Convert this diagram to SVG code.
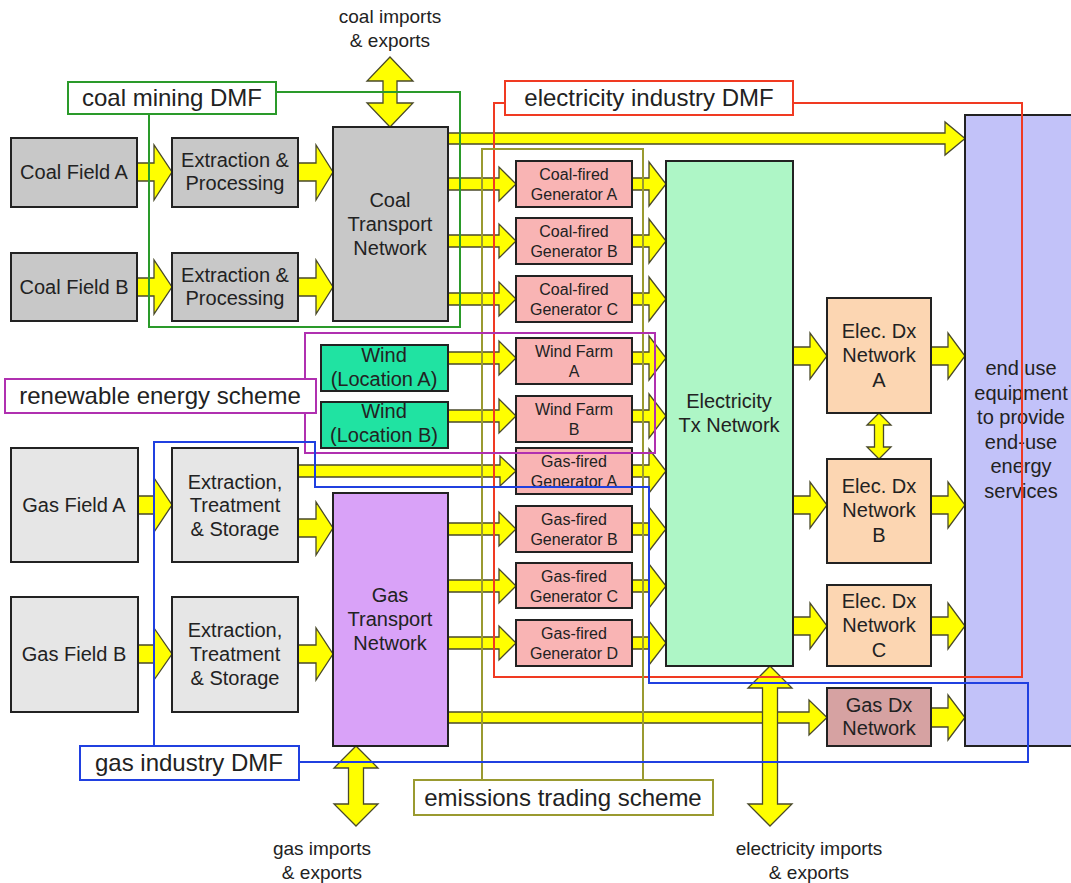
<svg xmlns="http://www.w3.org/2000/svg" width="1071" height="883" viewBox="0 0 1071 883">
<style>
text{font-family:"Liberation Sans",Arial,sans-serif;fill:#222;text-anchor:middle}
.t20{font-size:20px}
.t16{font-size:16px}
.t19{font-size:19px}
.t24{font-size:24px}
.box{stroke:#222;stroke-width:2}
.coal{fill:#c8c8c8}
.gasf{fill:#e6e6e6}
.wind{fill:#20e3a2}
.gen{fill:#f9b4b4}
.tx{fill:#aef6c6}
.dx{fill:#fcd6b2}
.gdx{fill:#d6a2a2}
.gtr{fill:#d9a2f8}
.end{fill:#c2c2f9}
.arr{fill:#ffff00;stroke:#4a4a2a;stroke-width:1.3;stroke-linejoin:miter}
.ln{fill:none;stroke-width:2}
.lab{fill:#fff;stroke-width:2}
</style>

<g id="connectors">
<!-- field to extraction / extraction to transport -->
<polygon class="arr" points="137,163 154,163 154,145 172,172 154,200 154,181 137,181"/>
<polygon class="arr" points="298,163 316,163 316,145 333,172 316,200 316,181 298,181"/>
<polygon class="arr" points="137,278 154,278 154,260 172,287 154,314 154,296 137,296"/>
<polygon class="arr" points="298,278 316,278 316,260 333,287 316,314 316,296 298,296"/>
<polygon class="arr" points="137,496 154,496 154,478 172,505 154,532 154,514 137,514"/>
<polygon class="arr" points="298,519 316,519 316,502 333,528 316,555 316,537 298,537"/>
<polygon class="arr" points="137,645 154,645 154,628 172,654 154,680 154,663 137,663"/>
<polygon class="arr" points="298,645 316,645 316,628 333,654 316,680 316,663 298,663"/>
<!-- top long arrow coal to end use -->
<polygon class="arr" points="448,133 945,133 945,122 965,138.5 945,155 945,144 448,144"/>
<!-- coal transport to coal generators -->
<polygon class="arr" points="448,178 499,178 499,167 516,184 499,201 499,190 448,190"/>
<polygon class="arr" points="448,235 499,235 499,224 516,241 499,258 499,247 448,247"/>
<polygon class="arr" points="448,293 499,293 499,282 516,299 499,316 499,305 448,305"/>
<!-- wind to wind farms -->
<polygon class="arr" points="448,352 499,352 499,341 516,358 499,375 499,364 448,364"/>
<polygon class="arr" points="448,410 499,410 499,399 516,416 499,433 499,422 448,422"/>
<!-- gas long arrow -->
<polygon class="arr" points="298,465 500,465 500,456 516,471 500,486 500,477 298,477"/>
<!-- gas transport to gas generators -->
<polygon class="arr" points="448,523 499,523 499,512 516,529 499,546 499,535 448,535"/>
<polygon class="arr" points="448,580 499,580 499,569 516,586 499,603 499,592 448,592"/>
<polygon class="arr" points="448,637 499,637 499,626 516,643 499,660 499,649 448,649"/>
<!-- generators to Tx -->
<polygon class="arr" points="632,178 649,178 649,162 666,184 649,206 649,190 632,190"/>
<polygon class="arr" points="632,235 649,235 649,219 666,241 649,263 649,247 632,247"/>
<polygon class="arr" points="632,293 649,293 649,277 666,299 649,321 649,305 632,305"/>
<polygon class="arr" points="632,352 649,352 649,336 666,358 649,380 649,364 632,364"/>
<polygon class="arr" points="632,410 649,410 649,394 666,416 649,438 649,422 632,422"/>
<polygon class="arr" points="632,465 649,465 649,449 666,471 649,493 649,477 632,477"/>
<polygon class="arr" points="632,523 649,523 649,507 666,529 649,551 649,535 632,535"/>
<polygon class="arr" points="632,580 649,580 649,564 666,586 649,608 649,592 632,592"/>
<polygon class="arr" points="632,637 649,637 649,621 666,643 649,665 649,649 632,649"/>
<!-- Tx to Dx -->
<polygon class="arr" points="793,347 810,347 810,333 827,356 810,379 810,365 793,365"/>
<polygon class="arr" points="793,496 810,496 810,482 827,505 810,528 810,514 793,514"/>
<polygon class="arr" points="793,617 810,617 810,603 827,626 810,649 810,635 793,635"/>
<!-- Dx to end use -->
<polygon class="arr" points="931,347 948,347 948,333 965,356 948,379 948,365 931,365"/>
<polygon class="arr" points="931,496 948,496 948,482 965,505 948,528 948,514 931,514"/>
<polygon class="arr" points="931,617 948,617 948,603 965,626 948,649 948,635 931,635"/>
<!-- gas transport to gas dx -->
<polygon class="arr" points="448,712 809,712 809,700 827,717.5 809,735 809,723 448,723"/>
<polygon class="arr" points="931,708 948,708 948,695 965,717.5 948,740 948,727 931,727"/>
<!-- double arrows -->
<polygon class="arr" points="390,57 413,81 397,81 397,103 413,103 390,127 367,103 383,103 383,81 367,81"/>
<polygon class="arr" points="356,746 378,768 363.5,768 363.5,804 378,804 356,826 334,804 348.5,804 348.5,768 334,768"/>
<polygon class="arr" points="770,666 792,688 777.5,688 777.5,804 792,804 770,826 748,804 762.5,804 762.5,688 748,688"/>
<polygon class="arr" points="879,413 891,425 883.5,425 883.5,447 891,447 879,459 867,447 874.5,447 874.5,425 867,425"/>
</g>

<g id="coal-field-a"><rect class="box coal" x="11" y="138" width="126" height="69"/><text class="t20" x="74" y="179">Coal Field A</text></g>
<g id="coal-extraction-a"><rect class="box coal" x="172" y="138" width="126" height="69"/><text class="t20" x="235" y="167">Extraction &amp;</text><text class="t20" x="235" y="190">Processing</text></g>
<g id="coal-field-b"><rect class="box coal" x="11" y="253" width="126" height="68"/><text class="t20" x="74" y="294">Coal Field B</text></g>
<g id="coal-extraction-b"><rect class="box coal" x="172" y="253" width="126" height="68"/><text class="t20" x="235" y="282">Extraction &amp;</text><text class="t20" x="235" y="305">Processing</text></g>
<g id="coal-transport"><rect class="box coal" x="333" y="127" width="115" height="194"/><text class="t20" x="390" y="207">Coal</text><text class="t20" x="390" y="231">Transport</text><text class="t20" x="390" y="255">Network</text></g>

<g id="wind-a"><rect class="box wind" x="321" y="345" width="127" height="46"/><text class="t20" x="384" y="362">Wind</text><text class="t20" x="384" y="386">(Location A)</text></g>
<g id="wind-b"><rect class="box wind" x="321" y="402" width="127" height="46"/><text class="t20" x="384" y="418">Wind</text><text class="t20" x="384" y="442">(Location B)</text></g>

<g id="gas-field-a"><rect class="box gasf" x="11" y="448" width="127" height="114"/><text class="t20" x="74" y="512">Gas Field A</text></g>
<g id="gas-extraction-a"><rect class="box gasf" x="172" y="448" width="126" height="114"/><text class="t20" x="235" y="489">Extraction,</text><text class="t20" x="235" y="512">Treatment</text><text class="t20" x="235" y="536">&amp; Storage</text></g>
<g id="gas-field-b"><rect class="box gasf" x="11" y="597" width="127" height="115"/><text class="t20" x="74" y="661">Gas Field B</text></g>
<g id="gas-extraction-b"><rect class="box gasf" x="172" y="597" width="126" height="115"/><text class="t20" x="235" y="637">Extraction,</text><text class="t20" x="235" y="661">Treatment</text><text class="t20" x="235" y="685">&amp; Storage</text></g>
<g id="gas-transport"><rect class="box gtr" x="333" y="493" width="115" height="253"/><text class="t20" x="390" y="602">Gas</text><text class="t20" x="390" y="626">Transport</text><text class="t20" x="390" y="650">Network</text></g>

<g id="coal-gen-a"><rect class="box gen" x="516" y="161" width="116" height="46"/><text class="t16" x="574" y="180">Coal-fired</text><text class="t16" x="574" y="200">Generator A</text></g>
<g id="coal-gen-b"><rect class="box gen" x="516" y="218" width="116" height="46"/><text class="t16" x="574" y="237">Coal-fired</text><text class="t16" x="574" y="257">Generator B</text></g>
<g id="coal-gen-c"><rect class="box gen" x="516" y="276" width="116" height="46"/><text class="t16" x="574" y="295">Coal-fired</text><text class="t16" x="574" y="315">Generator C</text></g>
<g id="wind-farm-a"><rect class="box gen" x="516" y="338" width="116" height="46"/><text class="t16" x="574" y="357">Wind Farm</text><text class="t16" x="574" y="377">A</text></g>
<g id="wind-farm-b"><rect class="box gen" x="516" y="396" width="116" height="46"/><text class="t16" x="574" y="415">Wind Farm</text><text class="t16" x="574" y="435">B</text></g>
<g id="gas-gen-a"><rect class="box gen" x="516" y="448" width="116" height="46"/><text class="t16" x="574" y="467">Gas-fired</text><text class="t16" x="574" y="487">Generator A</text></g>
<g id="gas-gen-b"><rect class="box gen" x="516" y="506" width="116" height="46"/><text class="t16" x="574" y="525">Gas-fired</text><text class="t16" x="574" y="545">Generator B</text></g>
<g id="gas-gen-c"><rect class="box gen" x="516" y="563" width="116" height="45"/><text class="t16" x="574" y="582">Gas-fired</text><text class="t16" x="574" y="602">Generator C</text></g>
<g id="gas-gen-d"><rect class="box gen" x="516" y="620" width="116" height="46"/><text class="t16" x="574" y="639">Gas-fired</text><text class="t16" x="574" y="659">Generator D</text></g>

<g id="tx-network"><rect class="box tx" x="666" y="161" width="127" height="505"/><text class="t20" x="729" y="408">Electricity</text><text class="t20" x="729" y="432">Tx Network</text></g>

<g id="dx-a"><rect class="box dx" x="827" y="298" width="104" height="115"/><text class="t20" x="879" y="338">Elec. Dx</text><text class="t20" x="879" y="362">Network</text><text class="t20" x="879" y="387">A</text></g>
<g id="dx-b"><rect class="box dx" x="827" y="459" width="104" height="104"/><text class="t20" x="879" y="493">Elec. Dx</text><text class="t20" x="879" y="517">Network</text><text class="t20" x="879" y="542">B</text></g>
<g id="dx-c"><rect class="box dx" x="827" y="585" width="104" height="81"/><text class="t20" x="879" y="608">Elec. Dx</text><text class="t20" x="879" y="632">Network</text><text class="t20" x="879" y="657">C</text></g>
<g id="gas-dx"><rect class="box gdx" x="827" y="688" width="104" height="58"/><text class="t20" x="879" y="712">Gas Dx</text><text class="t20" x="879" y="735">Network</text></g>

<g id="end-use"><rect class="box end" x="965" y="115" width="120" height="631"/><text class="t20" x="1021" y="375">end use</text><text class="t20" x="1021" y="400">equipment</text><text class="t20" x="1021" y="424">to provide</text><text class="t20" x="1021" y="449">end-use</text><text class="t20" x="1021" y="473">energy</text><text class="t20" x="1021" y="498">services</text></g>

<g id="import-labels">
<text class="t19" x="390" y="23">coal imports</text><text class="t19" x="390" y="47">&amp; exports</text>
<text class="t19" x="322" y="855">gas imports</text><text class="t19" x="322" y="879">&amp; exports</text>
<text class="t19" x="809" y="855">electricity imports</text><text class="t19" x="809" y="879">&amp; exports</text>
</g>

<g id="coal-mining-dmf">
<path class="ln" stroke="#2a9a2a" d="M276,92 H460 V327 H149 V114"/>
<rect class="lab" stroke="#2a9a2a" x="68" y="82" width="208" height="32"/>
<text class="t24" x="172" y="106">coal mining DMF</text>
</g>
<g id="electricity-industry-dmf">
<rect class="ln" stroke="#f03a22" x="494" y="103" width="528" height="574"/>
<rect class="lab" stroke="#f03a22" x="505" y="81" width="288" height="34"/>
<text class="t24" x="649" y="106">electricity industry DMF</text>
</g>
<g id="emissions-trading-scheme">
<path class="ln" stroke="#9a9a30" d="M482,780 V149 H643 V780"/>
<rect class="lab" stroke="#9a9a30" x="414" y="780" width="299" height="35"/>
<text class="t24" x="563" y="806">emissions trading scheme</text>
</g>
<g id="renewable-energy-scheme">
<rect class="ln" stroke="#b030b0" x="305" y="333" width="350" height="120"/>
<rect class="lab" stroke="#b030b0" x="5" y="379" width="311" height="34"/>
<text class="t24" x="160" y="404">renewable energy scheme</text>
</g>
<g id="gas-industry-dmf">
<path class="ln" stroke="#2040e0" d="M154,746 V442 H315 V487 H649 V683 H1028 V762 H299"/>
<rect class="lab" stroke="#2040e0" x="80" y="746" width="219" height="34"/>
<text class="t24" x="189" y="771">gas industry DMF</text>
</g>
</svg>
